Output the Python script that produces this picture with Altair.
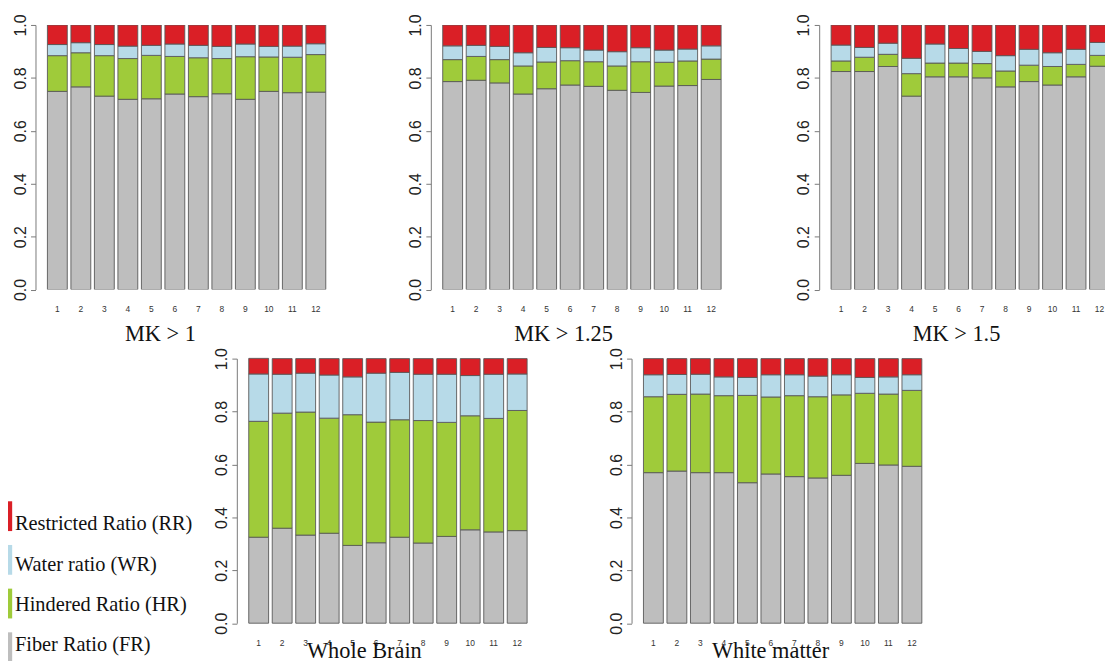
import altair as alt
import pandas as pd

groups = [str(i) for i in range(1, 13)]
components = ["Restricted Ratio (RR)", "Water ratio (WR)", "Hindered Ratio (HR)", "Fiber Ratio (FR)"]
colors = ["#DA1F26", "#B7DAE8", "#9FCB3A", "#BEBEBE"]
y_ticks = [0.0, 0.2, 0.4, 0.6, 0.8, 1.0]

# MK > 1
mk1_fr = [0.749, 0.766, 0.731, 0.719, 0.721, 0.739, 0.729, 0.740, 0.719, 0.749, 0.744, 0.746]
mk1_hr = [0.135, 0.129, 0.153, 0.154, 0.164, 0.142, 0.147, 0.133, 0.161, 0.130, 0.134, 0.142]
mk1_wr = [0.042, 0.038, 0.042, 0.047, 0.038, 0.047, 0.047, 0.046, 0.048, 0.040, 0.042, 0.041]
mk1_rr = [0.074, 0.067, 0.074, 0.080, 0.077, 0.072, 0.077, 0.081, 0.072, 0.081, 0.080, 0.071]

# MK > 1.25
mk125_fr = [0.786, 0.791, 0.781, 0.739, 0.759, 0.773, 0.768, 0.753, 0.745, 0.769, 0.771, 0.794]
mk125_hr = [0.083, 0.090, 0.088, 0.106, 0.101, 0.092, 0.093, 0.092, 0.116, 0.090, 0.093, 0.077]
mk125_wr = [0.052, 0.042, 0.050, 0.050, 0.055, 0.049, 0.044, 0.054, 0.053, 0.046, 0.045, 0.050]
mk125_rr = [0.079, 0.077, 0.081, 0.105, 0.085, 0.086, 0.095, 0.101, 0.086, 0.095, 0.091, 0.079]

# MK > 1.5
mk15_fr = [0.824, 0.824, 0.843, 0.731, 0.804, 0.804, 0.800, 0.766, 0.786, 0.773, 0.804, 0.844]
mk15_hr = [0.040, 0.054, 0.046, 0.085, 0.052, 0.052, 0.054, 0.060, 0.062, 0.070, 0.047, 0.041]
mk15_wr = [0.060, 0.037, 0.042, 0.058, 0.072, 0.055, 0.046, 0.058, 0.060, 0.052, 0.057, 0.049]
mk15_rr = [0.076, 0.085, 0.069, 0.126, 0.072, 0.089, 0.100, 0.116, 0.092, 0.105, 0.092, 0.066]

# Whole Brain
wb_fr = [0.325, 0.359, 0.333, 0.340, 0.294, 0.304, 0.325, 0.303, 0.328, 0.353, 0.345, 0.350]
wb_hr = [0.438, 0.435, 0.465, 0.435, 0.494, 0.456, 0.444, 0.463, 0.431, 0.431, 0.429, 0.454]
wb_wr = [0.179, 0.147, 0.147, 0.163, 0.143, 0.185, 0.179, 0.175, 0.182, 0.152, 0.167, 0.138]
wb_rr = [0.059, 0.059, 0.055, 0.062, 0.069, 0.055, 0.052, 0.059, 0.059, 0.064, 0.059, 0.058]

# White matter
wm_fr = [0.569, 0.575, 0.569, 0.569, 0.531, 0.564, 0.554, 0.549, 0.559, 0.604, 0.598, 0.593]
wm_hr = [0.287, 0.290, 0.297, 0.291, 0.330, 0.291, 0.306, 0.307, 0.304, 0.265, 0.268, 0.287]
wm_wr = [0.083, 0.075, 0.075, 0.071, 0.068, 0.084, 0.079, 0.078, 0.076, 0.060, 0.065, 0.059]
wm_rr = [0.061, 0.060, 0.059, 0.069, 0.071, 0.061, 0.061, 0.066, 0.061, 0.071, 0.069, 0.061]

W = 304.4
H = 266.5
STEP_PI = 0.155
STEP_PO = 0.507
GAP = 93.2


def make_df(fr, hr, wr, rr):
    rows = []
    for series, comp, order in [(fr, components[3], 0), (hr, components[2], 1),
                                (wr, components[1], 2), (rr, components[0], 3)]:
        for g, v in zip(groups, series):
            rows.append({"group": g, "comp": comp, "value": v, "ord": order})
    return pd.DataFrame(rows)


color_enc = alt.Color("comp:N", scale=alt.Scale(domain=components, range=colors), legend=None)


def panel(df, title, title_x, title_y, label_pad, shift=0.0, clip=True):
    xs = alt.Scale(paddingInner=STEP_PI, paddingOuter=STEP_PO, range=[shift, shift + W])
    return alt.Chart(df).mark_bar(stroke="#595959", strokeWidth=0.9, clip=clip).encode(
        x=alt.X("group:N", sort=groups, scale=xs,
                axis=alt.Axis(title=title, labelAngle=0, ticks=False, tickSize=0, domain=False,
                              grid=False, labelPadding=label_pad, labelBaseline="middle",
                              labelFont="Liberation Sans", labelFontSize=8.5, labelColor="#333333",
                              titleFont="Liberation Serif", titleFontSize=22.5,
                              titleFontWeight="normal", titleColor="#111111",
                              titleX=title_x, titleY=title_y, titleAlign="center",
                              titleBaseline="alphabetic")),
        y=alt.Y("value:Q", stack="zero", scale=alt.Scale(domain=[0, 1], nice=False),
                axis=alt.Axis(title=None, values=y_ticks, format=".1f", grid=False,
                              offset=-shift,
                              labelAngle=270, labelAlign="center", labelBaseline="alphabetic",
                              labelPadding=5.5, labelFont="Liberation Sans", labelFontSize=16,
                              labelColor="#222222", tickSize=5, tickColor="#7a7a7a",
                              domainColor="#7a7a7a", tickWidth=1, domainWidth=1)),
        color=color_enc,
        order=alt.Order("ord:Q", sort="ascending"),
    )


# top row (grid columns start at page x 35.7, 433.3, 830.9)
p1 = panel(make_df(mk1_fr, mk1_hr, mk1_wr, mk1_rr), "MK > 1", 125.3, 51, 19.3
           ).properties(width=W, height=H)
p2 = panel(make_df(mk125_fr, mk125_hr, mk125_wr, mk125_rr), "MK > 1.25", 133.2, 51, 19.3
           ).properties(width=W, height=H)
p3 = panel(make_df(mk15_fr, mk15_hr, mk15_wr, mk15_rr), "MK > 1.5", 130.8, 51, 19.3,
           shift=-7.0).properties(width=281, height=H)
# bottom row, shifted inside columns 1 and 2
p4 = panel(make_df(wb_fr, wb_hr, wb_wr, wb_rr), "Whole Brain", 330.8, 34.5, 19,
           shift=202.8, clip=False)
p5 = panel(make_df(wm_fr, wm_hr, wm_wr, wm_rr), "White matter", 341.7, 34.5, 19,
           shift=202.2, clip=False).properties(width=W, height=H)

leg_df = pd.DataFrame({"comp": components})
leg_y = alt.Y("comp:N", sort=components, axis=None,
              scale=alt.Scale(paddingInner=0.318, paddingOuter=0, range=[143.7, 305.7]))
leg_rect = alt.Chart(leg_df).mark_rect().encode(
    x=alt.value(-27.7), x2=alt.value(-23.5), y=leg_y, color=color_enc)
leg_text = alt.Chart(leg_df).mark_text(
    align="left", baseline="middle", font="Liberation Serif", fontSize=20.5,
    color="#111111", dy=3).encode(
    x=alt.value(-20.7), y=leg_y, text="comp:N")

p4_leg = alt.layer(p4, leg_rect, leg_text).resolve_scale(y="independent").properties(
    width=W, height=H)

chart = alt.concat(
    p1, p2, p3, p4_leg, p5,
    columns=3, spacing={"row": 69.1, "column": GAP}, bounds="flush",
).properties(
    autosize=alt.AutoSizeParams(type="none"),
    padding={"left": 27.7, "top": 14.7, "right": 1105 - 27.7, "bottom": 653 - 14.7},
    background="white",
).configure_view(stroke=None).resolve_scale(x="independent", y="independent")

chart.save("out.html", embed_options={"renderer": "svg", "actions": False})
